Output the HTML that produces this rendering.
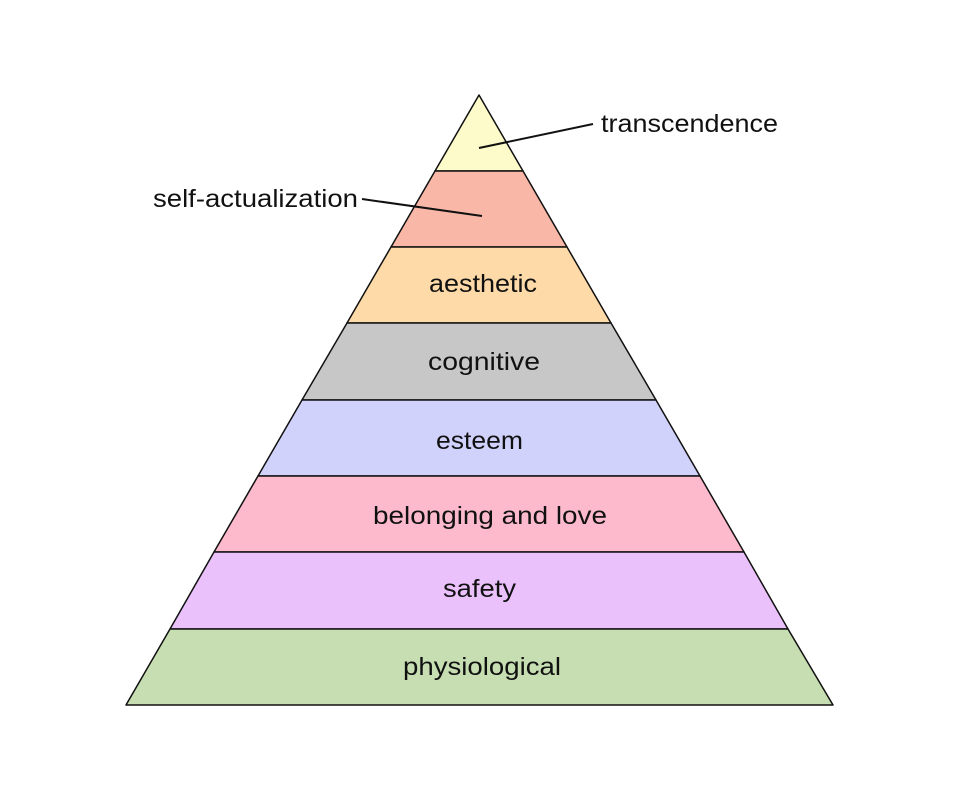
<!DOCTYPE html>
<html><head><style>body{margin:0;background:#fff}svg{display:block}</style></head><body>
<svg width="960" height="800" viewBox="0 0 960 800" xmlns="http://www.w3.org/2000/svg" font-family="Liberation Sans, sans-serif" font-size="25" fill="#111">
<g stroke="#111" stroke-width="1.5" stroke-linejoin="round">
<polygon points="479,95 523,171 435,171" fill="#fdfbc9"/>
<polygon points="435,171 523,171 567,247 391,247" fill="#f9b8a7"/>
<polygon points="391,247 567,247 611,323 347,323" fill="#fddaa8"/>
<polygon points="347,323 611,323 656,400 302,400" fill="#c7c7c7"/>
<polygon points="302,400 656,400 700,476 258,476" fill="#d1d2fc"/>
<polygon points="258,476 700,476 744,552 214,552" fill="#fcbacc"/>
<polygon points="214,552 744,552 788,629 170,629" fill="#eac1fb"/>
<polygon points="170,629 788,629 833,705 126,705" fill="#c6deb1"/>
<line x1="479" y1="148" x2="593" y2="124" stroke-width="2"/>
<line x1="362" y1="199" x2="482" y2="216" stroke-width="2"/>
</g>
<g lengthAdjust="spacingAndGlyphs">
<text x="429" y="292" textLength="108" lengthAdjust="spacingAndGlyphs">aesthetic</text>
<text x="428" y="370" textLength="112" lengthAdjust="spacingAndGlyphs">cognitive</text>
<text x="436" y="449" textLength="87" lengthAdjust="spacingAndGlyphs">esteem</text>
<text x="373" y="524" textLength="234" lengthAdjust="spacingAndGlyphs">belonging and love</text>
<text x="443" y="597" textLength="73" lengthAdjust="spacingAndGlyphs">safety</text>
<text x="403" y="675" textLength="158" lengthAdjust="spacingAndGlyphs">physiological</text>
<text x="601" y="132" textLength="177" lengthAdjust="spacingAndGlyphs">transcendence</text>
<text x="153" y="207" textLength="205" lengthAdjust="spacingAndGlyphs">self-actualization</text>
</g>
</svg>
</body></html>
